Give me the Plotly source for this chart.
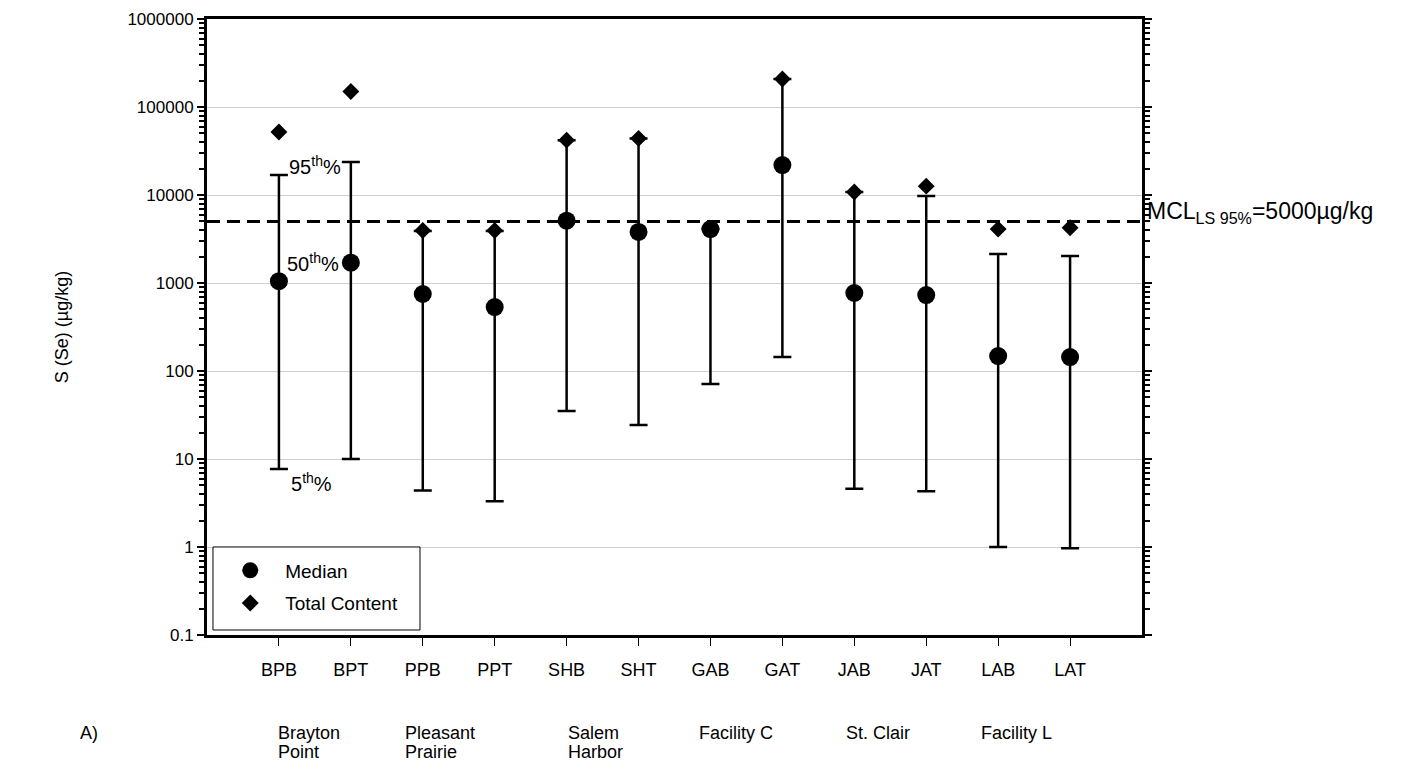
import math
import plotly.graph_objects as go

# ---------------- data ----------------
samples = ["BPB", "BPT", "PPB", "PPT", "SHB", "SHT", "GAB", "GAT", "JAB", "JAT", "LAB", "LAT"]
median = [1050, 1700, 750, 533, 5100, 3800, 4100, 21900, 770, 730, 148, 144]
p95 = [16900, 23700, 3900, 3900, 42000, 44000, 4100, 208000, 10800, 9750, 2140, 2030]
p5 = [7.7, 10, 4.4, 3.3, 35, 24.3, 71, 144, 4.6, 4.3, 1.0, 0.97]
total_content = [52000, 150000, 3950, 3950, 42000, 44000, 4100, 208000, 10800, 12600, 4100, 4250]
groups = ["Brayton<br>Point", "Pleasant<br>Prairie", "Salem<br>Harbor", "Facility C", "St. Clair", "Facility L"]
ytick_vals = [0.1, 1, 10, 100, 1000, 10000, 100000, 1000000]
ytick_text = ["0.1", "1", "10", "100", "1000", "10000", "100000", "1000000"]
mcl_value = 5000

FONT = "Arial, 'Liberation Sans', sans-serif"
xs = list(range(len(samples)))

fig = go.Figure()

# whiskers (5th - 95th percentile)
fig.add_trace(go.Scatter(
    x=xs, y=median, mode="markers",
    marker=dict(size=1, color="rgba(0,0,0,0)"),
    error_y=dict(type="data", symmetric=False,
                 array=[u - m for u, m in zip(p95, median)],
                 arrayminus=[m - l for m, l in zip(median, p5)],
                 color="black", thickness=2.5, width=9),
    showlegend=False, hoverinfo="skip"))

fig.add_trace(go.Scatter(
    x=xs, y=median, mode="markers", name="Median", legendgroup="a",
    marker=dict(symbol="circle", size=18, color="black")))
fig.add_trace(go.Scatter(
    x=xs, y=total_content, mode="markers", name="Total Content", legendgroup="b",
    marker=dict(symbol="diamond", size=13, color="black")))

# MCL dashed line
fig.add_shape(type="line", xref="paper", x0=0, x1=1, yref="y", y0=mcl_value, y1=mcl_value,
              line=dict(color="black", width=3, dash="13px,7px"))
fig.add_annotation(xref="paper", x=1, yref="y", y=math.log10(mcl_value), xshift=3, yshift=9,
                   xanchor="left", yanchor="middle", showarrow=False,
                   text="MCL<sub>LS 95%</sub>=5000µg/kg", font=dict(size=23, color="black"))

# percentile labels (annotation y on a log axis is log10)
fig.add_annotation(x=0.5, y=math.log10(p95[0]), yshift=9, text="95<sup>th</sup>%",
                   showarrow=False, font=dict(size=20))
fig.add_annotation(x=0.48, y=math.log10(median[0]), yshift=19, text="50<sup>th</sup>%",
                   showarrow=False, font=dict(size=20))
fig.add_annotation(x=0.45, y=math.log10(p5[0]), yshift=-14, text="5<sup>th</sup>%",
                   showarrow=False, font=dict(size=20))

# group labels (one annotation per line to control line spacing)
group_x = [-0.04, 1.73, 3.99, 5.81, 7.85, 9.74]
for g, gx in zip(groups, group_x):
    for k, line in enumerate(g.split("<br>")):
        fig.add_annotation(x=gx, xref="x", y=-0.159, yref="paper", yshift=-19 * k,
                           text=line, showarrow=False, xanchor="left", yanchor="middle",
                           font=dict(size=18))
fig.add_annotation(x=-0.138, xref="paper", xanchor="left", y=-0.159, yref="paper",
                   yanchor="middle", text="A)", showarrow=False, font=dict(size=18))

# legend frame
fig.add_shape(type="rect", xref="paper", yref="paper", x0=0.0064, x1=0.2278, y0=0.0081, y1=0.1429,
              line=dict(color="black", width=1), fillcolor="white", layer="above")

fig.update_layout(
    width=1393, height=767,
    margin=dict(l=199, r=259, t=11, b=140, autoexpand=False),
    paper_bgcolor="white", plot_bgcolor="white",
    font=dict(family=FONT, size=18, color="black"),
    legend=dict(x=0.0088, y=0.078, xanchor="left", yanchor="middle",
                bgcolor="rgba(0,0,0,0)", borderwidth=0, itemwidth=60,
                font=dict(size=19), tracegroupgap=5),
    showlegend=True,
)
fig.update_xaxes(range=[-1, 12], tickmode="array", tickvals=xs, ticktext=samples,
                 showgrid=False, zeroline=False, automargin=False,
                 showline=True, linecolor="black", linewidth=3, mirror=True,
                 ticks="outside", ticklen=8, tickwidth=1, tickcolor="black",
                 ticklabelstandoff=8)
fig.update_yaxes(type="log", range=[-1, 6], tickmode="array", tickvals=ytick_vals, ticktext=ytick_text,
                 tickfont=dict(size=17), automargin=False,
                 showgrid=True, gridcolor="#d0d0d0", gridwidth=1, zeroline=False,
                 showline=True, linecolor="black", linewidth=3, mirror="ticks",
                 ticks="outside", ticklen=7, tickwidth=2, tickcolor="black",
                 minor=dict(ticks="outside", ticklen=5, tickwidth=1.5, tickcolor="black",
                            dtick="D1", showgrid=False),
                 title=dict(text="S (Se) (µg/kg)", font=dict(size=18), standoff=55))

fig.write_html("out.html")
